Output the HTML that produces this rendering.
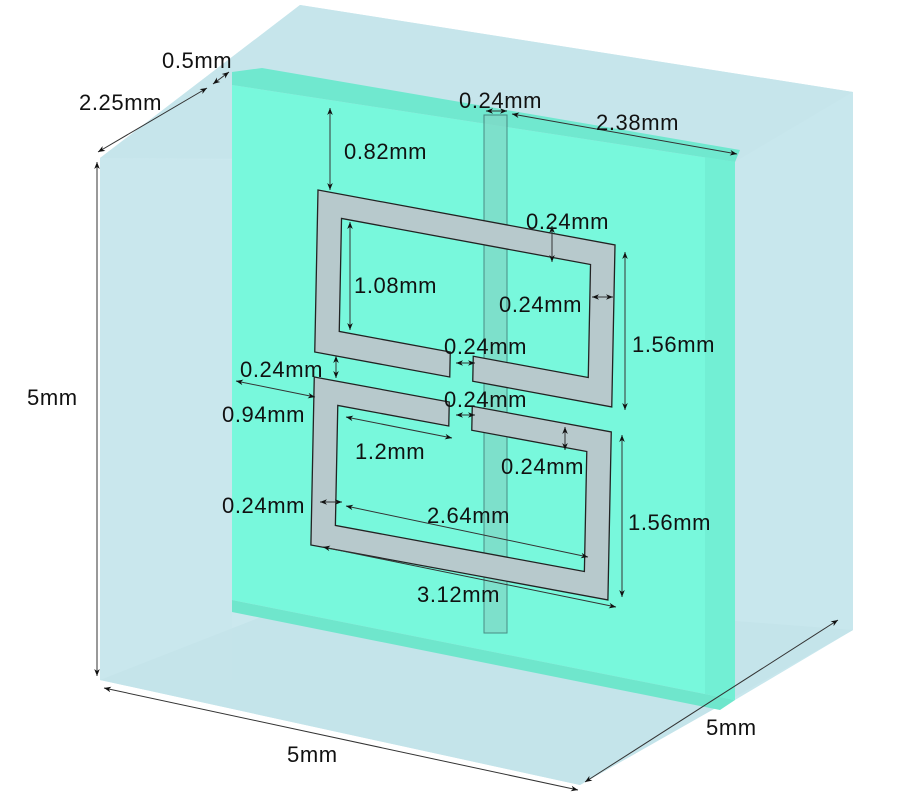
<!DOCTYPE html>
<html><head><meta charset="utf-8"><style>
html,body{margin:0;padding:0;background:#fff;}
svg{display:block;}
text{font-family:"Liberation Sans",sans-serif;font-size:22px;letter-spacing:0.6px;fill:#111;}
</style></head><body>
<svg width="900" height="800" viewBox="0 0 900 800">
<defs>
<marker id="a" viewBox="0 0 10 10" refX="10" refY="5" markerWidth="7" markerHeight="7" orient="auto-start-reverse" markerUnits="userSpaceOnUse"><path d="M0,1 L10,5 L0,9 L3,5 z" fill="#111"/></marker>
</defs>
<polygon points="100,158 300,5 853,92 853,630 580,785 100,680" fill="#cbe8ee"/>
<polygon points="100,158 300,5 853,92 735,162" fill="#c6e5eb"/>
<polygon points="735,162 853,92 853,630 735,700" fill="#c8e7ed"/>
<polygon points="100,680 330,590 853,630 580,785" fill="#c4e4ea"/>
<!-- green slab -->
<polygon points="232,85 735,162 735,700 232,600" fill="#78f8dc"/>
<polygon points="232,72 262,68 740,150 735,162 232,85" fill="#70e8cf"/>
<polygon points="232,600 735,700 720,710 232,612" fill="#6fe6cc"/>
<polygon points="705,157 735,162 735,700 705,694" fill="#72efd4"/>
<!-- front box face overlay (outside slab only subtle) -->
<polygon points="100,158 232,160 232,680 100,680" fill="#c8e6ec" opacity="0.3"/>
<!-- feed strip -->
<rect x="484" y="115" width="23" height="518" fill="#7fd9c6" opacity="0.75" stroke="#3a6a66" stroke-width="1"/>
<!-- SRR -->
<g transform="matrix(1,0.185,-0.02,1,318,190)" fill="#b7c9cc" stroke="#222" stroke-width="1.3">
<polygon points="135,162 0,162 0,0 297,0 297,162 158,162 158,137 273,137 273,24 24,24 24,137 135,137"/>
<polygon points="135,187 0,187 0,355 297,355 297,187 158,187 158,211 273,211 273,331 24,331 24,211 135,211"/>
</g>
<g stroke="#333" stroke-width="1" fill="none">
<line x1="98" y1="152" x2="207" y2="88" marker-start="url(#a)" marker-end="url(#a)"/>
<line x1="213" y1="84" x2="229" y2="72" marker-start="url(#a)" marker-end="url(#a)"/>
<line x1="97" y1="162" x2="97" y2="676" marker-start="url(#a)" marker-end="url(#a)"/>
<line x1="104" y1="688" x2="578" y2="790" marker-start="url(#a)" marker-end="url(#a)"/>
<line x1="585" y1="782" x2="838" y2="620" marker-start="url(#a)" marker-end="url(#a)"/>
<line x1="486" y1="111" x2="507" y2="111" marker-start="url(#a)" marker-end="url(#a)"/>
<line x1="512" y1="114" x2="737" y2="154" marker-start="url(#a)" marker-end="url(#a)"/>
<line x1="330" y1="108" x2="330" y2="190" marker-start="url(#a)" marker-end="url(#a)"/>
<line x1="552" y1="226" x2="552" y2="262" marker-start="url(#a)" marker-end="url(#a)"/>
<line x1="350" y1="222" x2="350" y2="330" marker-start="url(#a)" marker-end="url(#a)"/>
<line x1="592" y1="297" x2="613" y2="297" marker-start="url(#a)" marker-end="url(#a)"/>
<line x1="625" y1="252" x2="625" y2="410" marker-start="url(#a)" marker-end="url(#a)"/>
<line x1="456" y1="363" x2="475" y2="363" marker-start="url(#a)" marker-end="url(#a)"/>
<line x1="336" y1="356" x2="336" y2="378" marker-start="url(#a)" marker-end="url(#a)"/>
<line x1="236" y1="381" x2="315" y2="397" marker-start="url(#a)" marker-end="url(#a)"/>
<line x1="456" y1="415" x2="475" y2="415" marker-start="url(#a)" marker-end="url(#a)"/>
<line x1="346" y1="417" x2="452" y2="438" marker-start="url(#a)" marker-end="url(#a)"/>
<line x1="565" y1="427" x2="565" y2="450" marker-start="url(#a)" marker-end="url(#a)"/>
<line x1="622" y1="435" x2="622" y2="597" marker-start="url(#a)" marker-end="url(#a)"/>
<line x1="320" y1="502" x2="342" y2="502" marker-start="url(#a)" marker-end="url(#a)"/>
<line x1="346" y1="506" x2="588" y2="557" marker-start="url(#a)" marker-end="url(#a)"/>
<line x1="323" y1="547" x2="616" y2="607" marker-start="url(#a)" marker-end="url(#a)"/>
</g>
<text x="162" y="68">0.5mm</text>
<text x="79" y="110">2.25mm</text>
<text x="27" y="405">5mm</text>
<text x="287" y="762">5mm</text>
<text x="706" y="735">5mm</text>
<text x="459" y="108">0.24mm</text>
<text x="596" y="130">2.38mm</text>
<text x="344" y="159">0.82mm</text>
<text x="526" y="229">0.24mm</text>
<text x="354" y="293">1.08mm</text>
<text x="499" y="312">0.24mm</text>
<text x="632" y="352">1.56mm</text>
<text x="444" y="354">0.24mm</text>
<text x="240" y="377">0.24mm</text>
<text x="222" y="422">0.94mm</text>
<text x="444" y="407">0.24mm</text>
<text x="355" y="459">1.2mm</text>
<text x="501" y="474">0.24mm</text>
<text x="628" y="530">1.56mm</text>
<text x="222" y="513">0.24mm</text>
<text x="427" y="523">2.64mm</text>
<text x="417" y="602">3.12mm</text>
</svg>
</body></html>
